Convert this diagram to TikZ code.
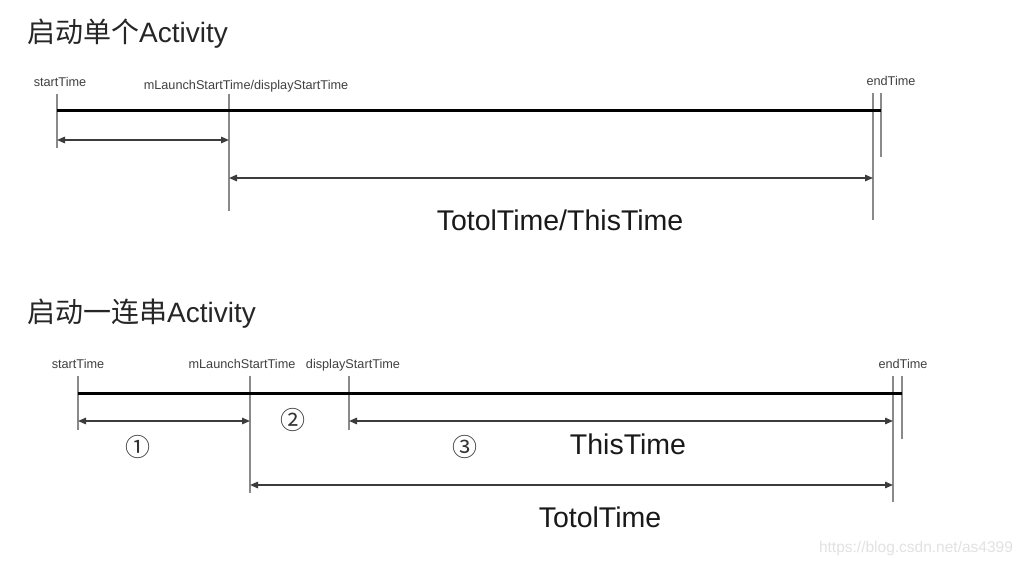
\documentclass[tikz,border=0pt]{standalone}
\usepackage{fontspec}
\setmainfont{Liberation Sans}
\newfontfamily\cjk{Noto Sans CJK SC}
\usetikzlibrary{arrows.meta}
\definecolor{tickgray}{HTML}{8A8A8A}
\definecolor{arrowgray}{HTML}{3C3C3C}
\definecolor{wmgray}{HTML}{E2E2E2}
\tikzset{
  title/.style={anchor=west,inner sep=0pt,font=\fontsize{28}{30}\selectfont,text=black!85},
  lbl/.style={inner sep=0pt,text height=9pt,text depth=3pt,font=\fontsize{12.7}{14}\selectfont,text=black!75},
  big/.style={inner sep=0pt,font=\fontsize{28.5}{32}\selectfont,text=black!90},
  circ/.style={inner sep=0pt,font=\cjk\fontsize{25}{27}\selectfont,text=black!80},
  tick/.style={draw=tickgray,line width=1.3pt},
  axis/.style={draw=black,line width=3pt},
  span/.style={draw=arrowgray,line width=1.4pt,{Triangle[length=8pt,width=6.5pt]}-{Triangle[length=8pt,width=6.5pt]}},
}
\begin{document}
\begin{tikzpicture}[x=1pt,y=-1pt]
\useasboundingbox[fill=white] (0,0) rectangle (1025,567);

% ---------- top: single activity ----------
\node[title] (t1) at (27,34) {{\cjk 启动单个}Activity};
\node[lbl] (l1s) at (60,84) {startTime};
\node[lbl] (l1m) at (246,87) {mLaunchStartTime/displayStartTime};
\node[lbl] (l1e) at (891,83) {endTime};

\coordinate (s1t) at (57,94);  \coordinate (s1b) at (57,148);
\coordinate (m1t) at (229,94); \coordinate (m1b) at (229,211);
\coordinate (e1at) at (873,93); \coordinate (e1ab) at (873,220);
\coordinate (e1bt) at (881,93); \coordinate (e1bb) at (881,157);
\coordinate (a1) at (57,111); \coordinate (b1) at (881,111);
\coordinate (p1a) at (57,140); \coordinate (p1b) at (229,140);
\coordinate (q1a) at (229,178); \coordinate (q1b) at (873,178);

\draw[tick] (s1t) -- (s1b);
\draw[tick] (m1t) -- (m1b);
\draw[tick] (e1at) -- (e1ab);
\draw[tick] (e1bt) -- (e1bb);
\draw[axis] (a1) -- (b1);
\draw[span] (p1a) -- (p1b);
\draw[span] (q1a) -- (q1b);
\node[big] (tt1) at (560,220) {TotolTime/ThisTime};

% ---------- bottom: chain of activities ----------
\node[title] (t2) at (27,314) {{\cjk 启动一连串}Activity};
\node[lbl] (l2s) at (78,365) {startTime};
\node[lbl] (l2m) at (242,365) {mLaunchStartTime};
\node[lbl] (l2d) at (353,365) {displayStartTime};
\node[lbl] (l2e) at (903,365) {endTime};

\coordinate (s2t) at (78,376);  \coordinate (s2b) at (78,430);
\coordinate (m2t) at (250,376); \coordinate (m2b) at (250,493);
\coordinate (d2t) at (349,376); \coordinate (d2b) at (349,430);
\coordinate (e2at) at (893,376); \coordinate (e2ab) at (893,502);
\coordinate (e2bt) at (902,376); \coordinate (e2bb) at (902,439);
\coordinate (a2) at (78,393); \coordinate (b2) at (902,393);
\coordinate (p2a) at (78,421); \coordinate (p2b) at (250,421);
\coordinate (r2a) at (349,421); \coordinate (r2b) at (893,421);
\coordinate (q2a) at (250,485); \coordinate (q2b) at (893,485);

\draw[tick] (s2t) -- (s2b);
\draw[tick] (m2t) -- (m2b);
\draw[tick] (d2t) -- (d2b);
\draw[tick] (e2at) -- (e2ab);
\draw[tick] (e2bt) -- (e2bb);
\draw[axis] (a2) -- (b2);
\draw[span] (p2a) -- (p2b);
\draw[span] (r2a) -- (r2b);
\draw[span] (q2a) -- (q2b);

\node[circ] (c1) at (138,447) {①};
\node[circ] (c2) at (293,420) {②};
\node[circ] (c3) at (465,447) {③};
\node[big] (tt2) at (628,444) {ThisTime};
\node[big] (tt3) at (600,517) {TotolTime};

\node[inner sep=0pt,font=\fontsize{15.5}{18}\selectfont,text=wmgray] (wm) at (916,548) {https://blog.csdn.net/as4399};
\end{tikzpicture}
\end{document}
